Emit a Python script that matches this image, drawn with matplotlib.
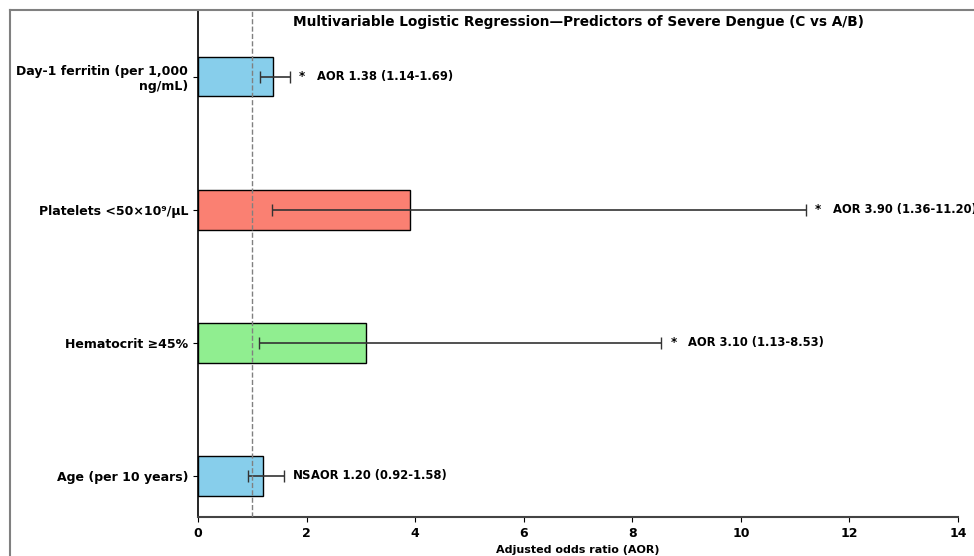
import numpy as np
import matplotlib.pyplot as plt
from matplotlib.lines import Line2D

# predictors, bottom to top
labels = ["Age (per 10 years)", "Hematocrit ≥45%", "Platelets <50×10⁹/μL",
          "Day-1 ferritin (per 1,000\nng/mL)"]
aor = [1.20, 3.10, 3.90, 1.38]
ci_lo = [0.92, 1.13, 1.36, 1.14]
ci_hi = [1.58, 8.53, 11.20, 1.69]
sig = ["NS", "*", "*", "*"]
colors = ["skyblue", "lightgreen", "salmon", "skyblue"]

fig = plt.figure(figsize=(9.74, 5.56), dpi=100)
ax = fig.add_axes([198/974, 1-517/556, 760/974, 507/556])

y = np.arange(len(labels))
aor_a = np.array(aor)
err = [aor_a-np.array(ci_lo), np.array(ci_hi)-aor_a]

ax.barh(y, aor, height=0.3, color=colors, edgecolor="black", linewidth=1, zorder=2)
ax.errorbar(aor, y, xerr=err, fmt="none", ecolor="#333333", elinewidth=1.2,
            capsize=4, capthick=1, zorder=3)
ax.axvline(1, color="gray", linestyle="--", linewidth=1, zorder=4)

for i in range(len(labels)):
    ax.text(ci_hi[i]+0.17, y[i], sig[i], ha="left", va="center",
            fontsize=8.5, fontweight="bold", zorder=5)
    ax.text(ci_hi[i]+0.5, y[i], f"AOR {aor[i]:.2f} ({ci_lo[i]:.2f}-{ci_hi[i]:.2f})",
            ha="left", va="center", fontsize=8.3, fontweight="bold", zorder=5)

ax.set_yticks(y)
ax.set_yticklabels(labels, fontsize=9, fontweight="bold")
ax.set_xlim(0, 14)
ax.set_ylim(-0.31, 3.5)
ax.set_xticks(range(0, 15, 2))
for t in ax.get_xticklabels():
    t.set_fontweight("bold")
    t.set_fontsize(9)
ax.set_xlabel("Adjusted odds ratio (AOR)", fontsize=8, fontweight="bold", labelpad=4)
ax.spines["top"].set_visible(False)
ax.spines["right"].set_visible(False)
ax.spines["left"].set_linewidth(1.2)
ax.spines["bottom"].set_linewidth(1.5)
ax.spines["bottom"].set_color("#444444")

fig.text(578/974, 1-22/556, "Multivariable Logistic Regression—Predictors of Severe Dengue (C vs A/B)",
         ha="center", va="center", fontsize=9.8, fontweight="bold")

# screenshot frame lines
fig.add_artist(Line2D([10/974, 1], [1-10/556, 1-10/556], color="gray", lw=1.5,
                      transform=fig.transFigure))
fig.add_artist(Line2D([10/974, 10/974], [0, 1-10/556], color="gray", lw=1.5,
                      transform=fig.transFigure))

fig.savefig("out.png", dpi=100)
